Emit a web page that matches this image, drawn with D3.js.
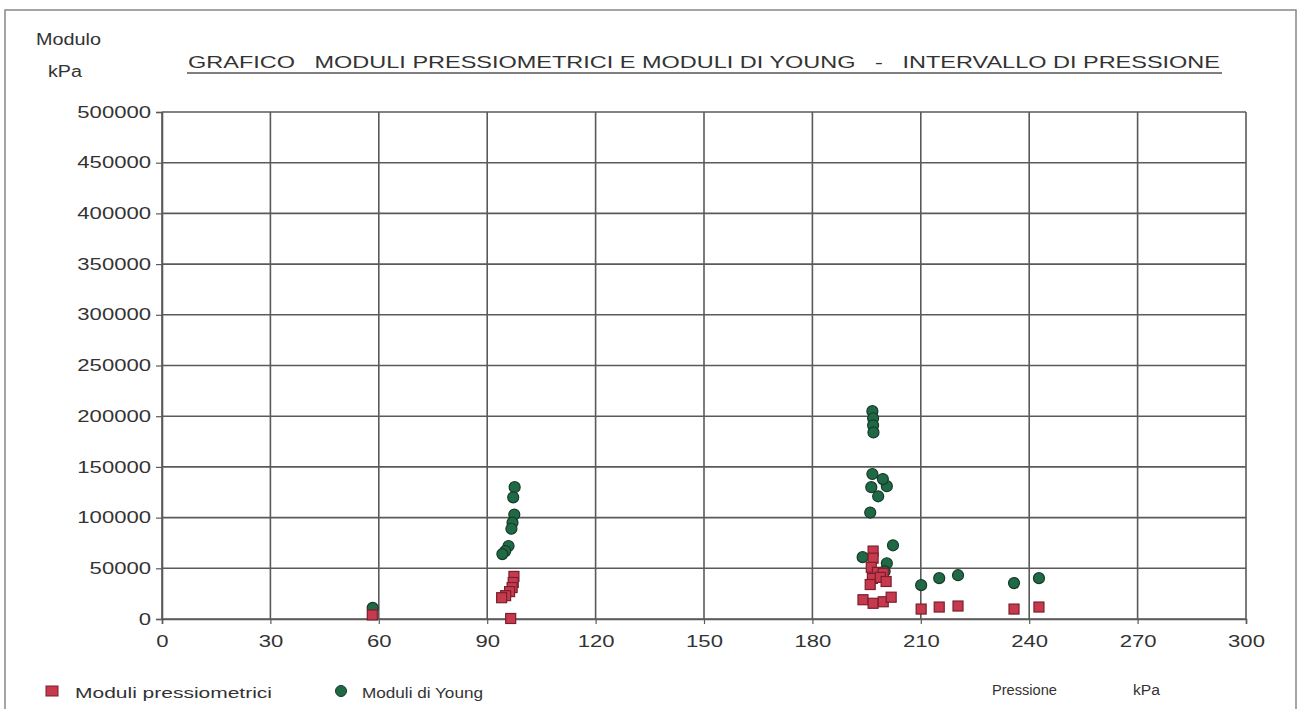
<!DOCTYPE html>
<html><head><meta charset="utf-8">
<script src="https://cdn.jsdelivr.net/npm/d3@7"></script>
<style>
body{margin:0;background:#fff;}
text{font-family:"Liberation Sans",Arial,sans-serif;fill:#333;}
</style></head>
<body><svg id="c" width="1302" height="709"></svg>
<script>
const xTicks = [0,30,60,90,120,150,180,210,240,270,300];
const yTicks = [0,50000,100000,150000,200000,250000,300000,350000,400000,450000,500000];
// Moduli pressiometrici (red squares)
const pressX = [58.2, 97.4, 97.2, 96.9, 96.2, 95.1, 94.0, 96.5,
  196.8, 196.8, 196.3, 198.0, 199.6, 196.6, 196.0, 194.0, 196.8, 199.6, 201.8, 198.8, 200.4,
  210.1, 215.1, 220.3, 235.8, 242.7];
const pressY = [4000, 42000, 36000, 31000, 27000, 23000, 21000, 500,
  67000, 60000, 51000, 46000, 45000, 40000, 34000, 19000, 15500, 17000, 21500, 41000, 37000,
  9800, 11800, 12800, 9800, 11800];
// Moduli di Young (green circles)
const youngX = [58.3, 97.6, 97.2, 97.5, 97.0, 96.7, 95.9, 95.0, 94.2,
  196.6, 196.8, 196.8, 196.9, 196.6, 196.3, 198.2, 200.6, 196.0, 199.5,
  202.3, 193.9, 200.6, 200.0,
  210.1, 215.1, 220.3, 235.8, 242.7];
const youngY = [11000, 130000, 120000, 103000, 95000, 89000, 72000, 67000, 64000,
  205000, 198000, 191000, 184000, 143000, 130000, 121000, 131000, 105000, 138000,
  72700, 61000, 55000, 47000,
  33400, 40300, 43200, 35400, 40300];

const svg = d3.select("#c");
const L=162, R=1246, T=112, B=619;
const x = d3.scaleLinear().domain([0,300]).range([L,R]);
const y = d3.scaleLinear().domain([0,500000]).range([B,T]);
const gridCol = "#5a5a5a";

function stretch(sel, k){
  sel.each(function(){
    const w = this.getComputedTextLength();
    d3.select(this).attr("textLength", w*k).attr("lengthAdjust","spacingAndGlyphs");
  });
}

// page border (scanned frame)
svg.append("path").attr("d","M5,709 L5,10 L1296,10 L1296,709")
  .attr("fill","none").attr("stroke","#888").attr("stroke-width",1.5);

// grid
const g = svg.append("g");
g.selectAll("line.vx").data(xTicks).join("line")
  .attr("x1",d=>x(d)).attr("x2",d=>x(d)).attr("y1",T).attr("y2",B)
  .attr("stroke",gridCol).attr("stroke-width",1.6);
g.selectAll("line.hy").data(yTicks).join("line")
  .attr("x1",L).attr("x2",R).attr("y1",d=>y(d)).attr("y2",d=>y(d))
  .attr("stroke",gridCol).attr("stroke-width",1.6);

// axes
const ya = svg.append("g").attr("transform",`translate(${L},0)`)
  .call(d3.axisLeft(y).tickValues(yTicks).tickSize(6).tickPadding(5).tickFormat(d3.format("d")));
ya.select(".domain").attr("stroke",gridCol).attr("stroke-width",1.6);
ya.selectAll(".tick line").attr("stroke",gridCol).attr("stroke-width",1.2);
ya.selectAll("text").attr("font-size",16).attr("fill","#333").attr("font-family","Liberation Sans, Arial, sans-serif");
stretch(ya.selectAll("text"), 1.38);

const xa = svg.append("g").attr("transform",`translate(0,${B})`)
  .call(d3.axisBottom(x).tickValues(xTicks).tickSize(5).tickPadding(12).tickFormat(d3.format("d")));
xa.select(".domain").attr("stroke",gridCol).attr("stroke-width",1.6);
xa.selectAll(".tick line").attr("stroke",gridCol).attr("stroke-width",1.2);
xa.selectAll("text").attr("font-size",16).attr("fill","#333").attr("font-family","Liberation Sans, Arial, sans-serif");
stretch(xa.selectAll("text"), 1.38);

// points
const pts = svg.append("g");
pts.selectAll("circle").data(youngX.map((v,i)=>[v,youngY[i]])).join("circle")
  .attr("cx",d=>x(d[0])).attr("cy",d=>y(d[1])).attr("r",5.5)
  .attr("fill","#1f6a45").attr("stroke","#163a2a").attr("stroke-width",1.2);
pts.selectAll("rect").data(pressX.map((v,i)=>[v,pressY[i]])).join("rect")
  .attr("x",d=>x(d[0])-5).attr("y",d=>y(d[1])-5).attr("width",10).attr("height",10)
  .attr("fill","#c73a4e").attr("stroke","#7a1f2e").attr("stroke-width",1.2);

// texts
function label(xp, yp, fs, len, str){
  svg.append("text").attr("x",xp).attr("y",yp).attr("font-size",fs)
    .attr("textLength",len).attr("lengthAdjust","spacingAndGlyphs").text(str);
}
label(36, 45, 16, 65, "Modulo");
label(48, 77, 16, 34, "kPa");
svg.append("text").attr("x",188).attr("y",68).attr("font-size",17)
  .attr("textLength",1032).attr("lengthAdjust","spacingAndGlyphs")
  .attr("xml:space","preserve").style("white-space","pre")
  .text("GRAFICO   MODULI PRESSIOMETRICI E MODULI DI YOUNG   -   INTERVALLO DI PRESSIONE");
svg.append("line").attr("x1",187).attr("x2",1222).attr("y1",73).attr("y2",73)
  .attr("stroke","#555").attr("stroke-width",1.6);

// legend
svg.append("rect").attr("x",46).attr("y",686).attr("width",12).attr("height",10)
  .attr("fill","#c73a4e").attr("stroke","#7a1f2e").attr("stroke-width",1);
label(75, 698, 15.5, 197, "Moduli pressiometrici");
svg.append("circle").attr("cx",341).attr("cy",691).attr("r",5.5)
  .attr("fill","#1f6a45").attr("stroke","#163a2a").attr("stroke-width",1);
label(362, 698, 15.5, 121, "Moduli di Young");
label(992, 695, 15.5, 65, "Pressione");
label(1133, 695, 15.5, 27, "kPa");
</script></body></html>
